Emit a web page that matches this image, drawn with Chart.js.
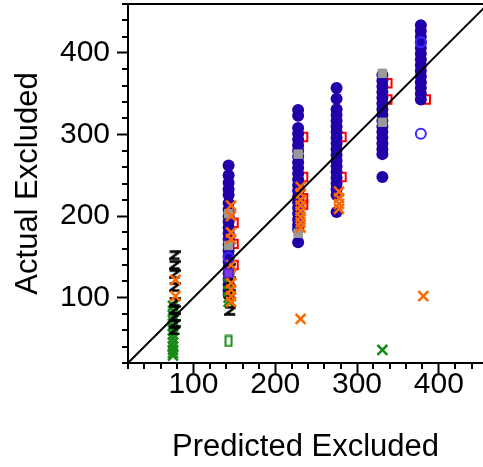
<!DOCTYPE html>
<html>
<head>
<meta charset="utf-8">
<script src="https://cdn.jsdelivr.net/npm/chart.js@4/dist/chart.umd.min.js"></script>
<style>
  html, body { margin: 0; padding: 0; background: #fff; }
  #wrap { width: 483px; height: 467px; }
</style>
</head>
<body>
<div id="wrap"><canvas id="chart"></canvas></div>
<script>
// Predicted value of each column of points
const predicted = [75, 143, 228, 275, 331, 378];

// Actual values per column (same order as predicted)
const blueCircles = [
    [],
    [262, 250, 241, 233, 226, 216, 208, 200, 193, 186, 179, 172, 165, 158, 151, 144, 137, 130, 123, 116, 109, 104],
    [330, 323, 308, 301, 294, 287, 280, 273, 266, 259, 252, 245, 238, 231, 224, 217, 210, 203, 196, 189, 184, 168],
    [357, 344, 331, 324, 317, 310, 303, 296, 289, 282, 275, 268, 261, 254, 247, 240, 233, 226, 205],
    [373, 366, 359, 352, 345, 338, 331, 324, 317, 310, 303, 296, 289, 282, 276, 248],
    [434, 427, 420, 413, 406, 399, 392, 385, 378, 371, 364, 357, 350, 343]
];
const redSquares = [
    [],
    [192, 166, 140],
    [297, 248, 222, 214],
    [297, 248],
    [363, 343],
    [343]
];
const orangeCrosses = [
    [122, 102],
    [213, 200, 180, 172, 140, 128, 118, 110, 102, 95],
    [236, 228, 220, 213, 206, 199, 192, 186, 74],
    [230, 222, 215, 209],
    [],
    [102]
];
const graySquares = [
    [],
    [203, 164],
    [276, 179],
    [],
    [375, 315],
    []
];
const greenCrosses = [
    [90, 84, 78, 72, 66, 60, 55, 50, 45, 40, 36, 32, 29],
    [117, 108, 100, 95],
    [],
    [],
    [36],
    []
];
const blackZ = [
    [152, 140, 129, 113, 95, 85, 76, 68, 60],
    [137, 120, 104, 84],
    [],
    [],
    [],
    []
];
const openCircles = [[], [149], [], [], [], [413, 301]];
const purpleSquares = [[], [130], [], [], [], []];
const greenBoxes = [[], [47], [], [], [], []];

const axisTicks = [100, 200, 300, 400];
const diagonal = [20, 460];

// Собираем точки колонки: x = predicted + сдвиг
function toPoints(cols, shift) {
    let pts = [];
    cols.forEach((vals, i) => {
        vals.forEach(v => pts.push({ x: predicted[i] + shift, y: v }));
    });
    return pts;
}

function makeZ() {
    let c = document.createElement("canvas");
    c.width = 12;
    c.height = 10;
    let g = c.getContext("2d");
    g.strokeStyle = "#000";
    g.lineWidth = 2.4;
    g.beginPath();
    g.moveTo(1, 1.5);
    g.lineTo(11, 1.5);
    g.lineTo(1.5, 8.5);
    g.lineTo(11, 8.5);
    g.stroke();
    return c;
}

function makeBox() {
    let c = document.createElement("canvas");
    c.width = 9;
    c.height = 13;
    let g = c.getContext("2d");
    g.strokeStyle = "#188a18";
    g.lineWidth = 2;
    g.strokeRect(1.5, 1.5, 6, 10);
    return c;
}

// Малые деления осей и верхняя рамка
const minorTicks = {
    id: "minorTicks",
    afterDraw(chart) {
        const ctx = chart.ctx;
        const xs = chart.scales.x;
        const ys = chart.scales.y;
        const area = chart.chartArea;
        ctx.save();
        ctx.strokeStyle = "#000";
        ctx.lineWidth = 2;
        for (let v = 20; v <= xs.max; v += 20) {
            if (v % 100 === 0) continue;
            let px = Math.round(xs.getPixelForValue(v));
            ctx.beginPath();
            ctx.moveTo(px, area.bottom);
            ctx.lineTo(px, area.bottom + 6);
            ctx.stroke();
        }
        for (let v = 20; v <= ys.max; v += 20) {
            if (v % 100 === 0) continue;
            let py = Math.round(ys.getPixelForValue(v));
            ctx.beginPath();
            ctx.moveTo(area.left, py);
            ctx.lineTo(area.left - 6, py);
            ctx.stroke();
        }
        ctx.beginPath();
        ctx.moveTo(area.left, area.top);
        ctx.lineTo(area.right, area.top);
        ctx.stroke();
        ctx.restore();
    }
};

const fontFamily = "'Liberation Sans', Arial, sans-serif";

new Chart(document.getElementById("chart"), {
    type: "scatter",
    data: {
        datasets: [
            {
                data: diagonal.map(v => ({ x: v, y: v })),
                showLine: true,
                borderColor: "#000",
                borderWidth: 2,
                pointRadius: 0,
                order: 0
            },
            {
                data: toPoints(purpleSquares, 0),
                pointStyle: "rect",
                pointRadius: 6,
                backgroundColor: "#7b3be0",
                borderColor: "#5a22d0",
                borderWidth: 1.5,
                order: 1
            },
            {
                data: toPoints(openCircles, 0),
                pointStyle: "circle",
                pointRadius: 5,
                backgroundColor: "rgba(0,0,0,0)",
                borderColor: "#3a2cff",
                borderWidth: 2,
                order: 2
            },
            {
                data: toPoints(orangeCrosses, 3),
                pointStyle: "crossRot",
                pointRadius: 7,
                borderColor: "#ff6a00",
                borderWidth: 2.5,
                order: 3
            },
            {
                data: toPoints(blackZ, 2),
                pointStyle: makeZ(),
                order: 4
            },
            {
                data: toPoints(graySquares, 0),
                pointStyle: "rect",
                pointRadius: 6,
                backgroundColor: "#9a9a9a",
                borderColor: "#9a9a9a",
                borderWidth: 1,
                order: 5
            },
            {
                data: toPoints(greenCrosses, 0),
                pointStyle: "crossRot",
                pointRadius: 7,
                borderColor: "#188a18",
                borderWidth: 2.5,
                order: 6
            },
            {
                data: toPoints(greenBoxes, 0),
                pointStyle: makeBox(),
                order: 6
            },
            {
                data: toPoints(blueCircles, 0),
                pointStyle: "circle",
                pointRadius: 6,
                backgroundColor: "#2200aa",
                borderColor: "#2200aa",
                borderWidth: 0,
                order: 7
            },
            {
                data: toPoints(redSquares, 6),
                pointStyle: "rect",
                pointRadius: 6,
                backgroundColor: "rgba(0,0,0,0)",
                borderColor: "#ff0000",
                borderWidth: 2,
                order: 8
            }
        ]
    },
    options: {
        responsive: true,
        maintainAspectRatio: false,
        animation: false,
        layout: { autoPadding: false, padding: { top: 4, right: 0, left: 0, bottom: 0 } },
        plugins: {
            legend: { display: false },
            tooltip: { enabled: false }
        },
        scales: {
            x: {
                type: "linear",
                min: 20,
                max: 454,
                afterBuildTicks: axis => { axis.ticks = axisTicks.map(v => ({ value: v })); },
                afterFit: axis => {
                    axis.height = 104;
                    axis.paddingLeft = 0;
                    axis.paddingRight = 0;
                },
                grid: { display: true, drawOnChartArea: false, drawTicks: true, tickLength: 10, tickWidth: 2, tickColor: "#000" },
                border: { display: true, color: "#000", width: 2 },
                ticks: {
                    color: "#000",
                    font: { family: fontFamily, size: 30, lineHeight: 1 },
                    padding: -3,
                    maxRotation: 0,
                    autoSkip: false
                },
                title: {
                    display: true,
                    text: "Predicted Excluded",
                    color: "#000",
                    font: { family: fontFamily, size: 31 },
                    padding: { top: 0, bottom: 1 }
                }
            },
            y: {
                type: "linear",
                min: 20,
                max: 460,
                afterBuildTicks: axis => { axis.ticks = axisTicks.map(v => ({ value: v })); },
                afterFit: axis => {
                    axis.width = 128;
                    axis.paddingTop = 0;
                    axis.paddingBottom = 0;
                },
                grid: { display: true, drawOnChartArea: false, drawTicks: true, tickLength: 11, tickWidth: 2, tickColor: "#000" },
                border: { display: true, color: "#000", width: 2 },
                ticks: {
                    color: "#000",
                    font: { family: fontFamily, size: 30, lineHeight: 1 },
                    padding: 7,
                    autoSkip: false
                },
                title: {
                    display: true,
                    text: "Actual Excluded",
                    color: "#000",
                    font: { family: fontFamily, size: 31 },
                    padding: { top: 10, bottom: 0 }
                }
            }
        }
    },
    plugins: [minorTicks]
});
</script>
</body>
</html>
